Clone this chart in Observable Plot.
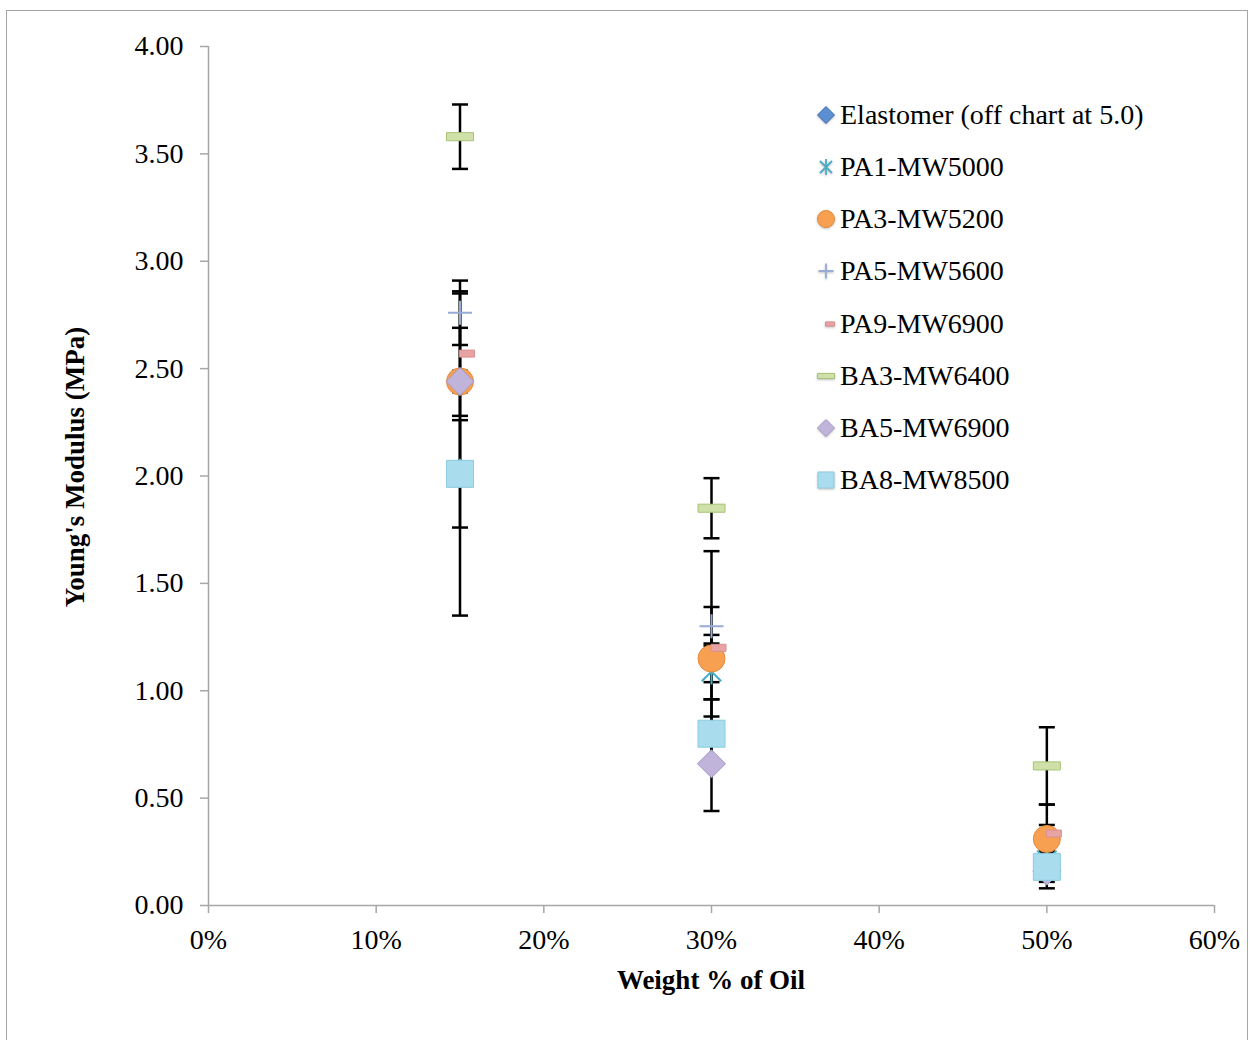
<!DOCTYPE html>
<html>
<head>
<meta charset="utf-8">
<script src="https://cdn.jsdelivr.net/npm/d3@7"></script>
<script src="https://cdn.jsdelivr.net/npm/@observablehq/plot@0.6"></script>
<style>
  html, body { margin: 0; padding: 0; background: #fff; }
  #wrap { position: relative; width: 1254px; height: 1040px; overflow: hidden; background: #fff;
          font-family: "Liberation Serif", "DejaVu Serif", serif; color: #000; }
  #frame { position: absolute; left: 6px; top: 10px; width: 1242px; height: 1100px;
           border: 1.5px solid #a6a6a6; box-sizing: border-box; }
  #chart { position: absolute; left: 0; top: 0; }
  .axis-title { position: absolute; font-weight: bold; font-size: 27px; white-space: nowrap; }
  #ytitle { left: 75px; top: 467px; transform: translate(-50%, -50%) rotate(-90deg); }
  #xtitle { left: 711px; top: 980px; transform: translate(-50%, -50%); }
  #legend { position: absolute; left: 0; top: 0; }
  .legend-row { position: absolute; height: 30px; line-height: 30px; font-size: 28px; white-space: nowrap; }
  .legend-row svg { position: absolute; top: 0; }
</style>
</head>
<body>
<div id="wrap">
  <div id="frame"></div>
  <div id="chart"></div>
  <div id="legend"></div>
  <div class="axis-title" id="ytitle">Young's Modulus (MPa)</div>
  <div class="axis-title" id="xtitle">Weight % of Oil</div>
</div>
<script>
// Oil content (weight fraction) at which each formulation was tested
const oilFractions = [0.15, 0.30, 0.50];

// Series names, in legend order
const seriesNames = ["Elastomer (off chart at 5.0)", "PA1-MW5000", "PA3-MW5200", "PA5-MW5600",
                     "PA9-MW6900", "BA3-MW6400", "BA5-MW6900", "BA8-MW8500"];

// Young's modulus (MPa) and error (± MPa) per series; null = no point
const elastomerOil = [0];
const elastomer    = [5.0];
const elastomerErr = [0];
const pa1    = [2.02, 1.09, 0.21];
const pa1Err = [0.67, 0.13, 0.05];
const pa3    = [2.44, 1.15, 0.31];
const pa3Err = [0.41, 0.11, 0.16];
const pa5    = [2.76, 1.30, null];
const pa5Err = [0.15, 0.09, null];
const pa9    = [2.57, 1.20, 0.335];
const pa9Err = [0.29, 0.45, 0.04];
const ba3    = [3.58, 1.85, 0.65];
const ba3Err = [0.15, 0.14, 0.18];
const ba5    = [2.44, 0.66, 0.16];
const ba5Err = [0.05, 0.22, 0.08];
const ba8    = [2.01, 0.80, 0.18];
const ba8Err = [0.25, 0.16, 0.07];

// Axis tick values
const xTickValues = [0, 0.1, 0.2, 0.3, 0.4, 0.5, 0.6];
const yTickValues = [0, 0.5, 1, 1.5, 2, 2.5, 3, 3.5, 4];

// Marker shapes (size is π·r², so r is recovered from it)
const radius = size => Math.sqrt(size / Math.PI);
const diamondSym = { draw(ctx, size) { const r = radius(size);
  ctx.moveTo(0, -r); ctx.lineTo(r, 0); ctx.lineTo(0, r); ctx.lineTo(-r, 0); ctx.closePath(); } };
const squareSym = { draw(ctx, size) { const r = radius(size); ctx.rect(-r, -r, 2 * r, 2 * r); } };
const circleSym = { draw(ctx, size) { const r = radius(size); ctx.moveTo(r, 0); ctx.arc(0, 0, r, 0, 2 * Math.PI); } };
const plusSym = { draw(ctx, size) { const r = radius(size);
  ctx.moveTo(-r, 0); ctx.lineTo(r, 0); ctx.moveTo(0, -r); ctx.lineTo(0, r); } };
const starSym = { draw(ctx, size) { const r = radius(size), a = r * 0.75;
  ctx.moveTo(0, -r); ctx.lineTo(0, r);
  ctx.moveTo(-a, -a); ctx.lineTo(a, a);
  ctx.moveTo(-a, a); ctx.lineTo(a, -a); } };
const barSym = aspect => ({ draw(ctx, size) { const r = radius(size), h = r * aspect;
  ctx.rect(-r, -h / 2, 2 * r, h); } });
const capSym = { draw(ctx, size) { const r = radius(size); ctx.moveTo(-r, 0); ctx.lineTo(r, 0); } };

// Series appearance: chart marker size r, legend marker size lr
const styles = [
  { symbol: diamondSym, r: 13, lr: 8.5, fill: "#5b8fd1", stroke: "#3d6db2", sw: 1 },
  { symbol: starSym, r: 13, lr: 8, fill: "none", stroke: "#4bacc6", sw: 2 },
  { symbol: circleSym, r: 13.5, lr: 8.5, fill: "#f8a052", stroke: "#e58a3a", sw: 1 },
  { symbol: plusSym, r: 12, lr: 7.5, fill: "none", stroke: "#98abd4", sw: 2 },
  { symbol: barSym(0.93), r: 7.5, lr: 4.5, fill: "#e8a4a4", stroke: "#d88e8e", sw: 1, dx: 7, ldx: 4 },
  { symbol: barSym(0.6), r: 13.5, lr: 8.5, fill: "#cfe1a9", stroke: "#a7c277", sw: 1 },
  { symbol: diamondSym, r: 14, lr: 8.5, fill: "#c1b4da", stroke: "#a596c4", sw: 1 },
  { symbol: squareSym, r: 13.5, lr: 8, fill: "#a9dced", stroke: "#8ccbe0", sw: 1 }
];

const seriesValues = [
  [elastomerOil, elastomer, elastomerErr],
  [oilFractions, pa1, pa1Err],
  [oilFractions, pa3, pa3Err],
  [oilFractions, pa5, pa5Err],
  [oilFractions, pa9, pa9Err],
  [oilFractions, ba3, ba3Err],
  [oilFractions, ba5, ba5Err],
  [oilFractions, ba8, ba8Err]
];

// Long-format rows built from the arrays above
const rows = seriesValues.flatMap(([xs, ys, es], i) =>
  ys.map((v, j) => ({ series: seriesNames[i], index: i, oil: xs[j], value: v, err: es[j] })))
  .filter(d => d.value != null);
const barRows = rows.filter(d => d.err > 0);

const markerMarks = styles.map((s, i) =>
  Plot.dot(rows.filter(d => d.index === i), {
    x: "oil", y: "value", symbol: s.symbol, r: s.r,
    fill: s.fill, stroke: s.stroke, strokeWidth: s.sw, dx: s.dx || 0,
    clip: true, ariaLabel: "marker"
  }));

const chart = Plot.plot({
  width: 1254,
  height: 1040,
  marginLeft: 208,
  marginRight: 40,
  marginTop: 46,
  marginBottom: 135,
  style: { fontFamily: "'Liberation Serif', 'DejaVu Serif', serif", fontSize: "28px",
           background: "transparent", color: "#000", overflow: "visible" },
  x: { domain: [0, 0.6] },
  y: { domain: [0, 4] },
  marks: [
    Plot.axisY({ ticks: yTickValues, tickFormat: d3.format(".2f"), tickSize: 8, tickPadding: 17,
                 stroke: "#a6a6a6", strokeWidth: 1.5, fill: "#000", label: null }),
    Plot.axisX({ ticks: xTickValues, tickFormat: d3.format(".0%"), tickSize: 8, tickPadding: 16,
                 stroke: "#a6a6a6", strokeWidth: 1.5, fill: "#000", label: null }),
    Plot.ruleX([0], { stroke: "#a6a6a6", strokeWidth: 1.5 }),
    Plot.ruleY([0], { stroke: "#a6a6a6", strokeWidth: 1.5 }),
    // error bars
    Plot.ruleX(barRows, { x: "oil", y1: d => d.value - d.err, y2: d => d.value + d.err,
                          stroke: "#000", strokeWidth: 2.5, clip: true }),
    Plot.dot(barRows, { x: "oil", y: d => d.value - d.err, symbol: capSym, r: 8,
                        stroke: "#000", strokeWidth: 2.5, fill: "none", clip: true }),
    Plot.dot(barRows, { x: "oil", y: d => d.value + d.err, symbol: capSym, r: 8,
                        stroke: "#000", strokeWidth: 2.5, fill: "none", clip: true }),
    ...markerMarks
  ]
});
document.getElementById("chart").appendChild(chart);

// soft shadow under the series markers
d3.select(chart).selectAll('g[aria-label="marker"]')
  .style("filter", "drop-shadow(0px 3px 2.5px rgba(0,0,0,0.35))");

// Legend
const legend = d3.select("#legend");
const rowTop = 100, rowStep = 52.14;
seriesNames.forEach((name, i) => {
  const s = styles[i];
  const row = legend.append("div").attr("class", "legend-row")
    .style("left", "810px").style("top", `${rowTop + i * rowStep}px`);
  const svg = row.append("svg").attr("width", 30).attr("height", 30).style("left", "0px");
  svg.append("path")
    .attr("transform", `translate(${16 + (s.ldx || 0)},15)`)
    .attr("d", d3.symbol(s.symbol, Math.PI * s.lr * s.lr)())
    .attr("fill", s.fill).attr("stroke", s.stroke).attr("stroke-width", s.sw === 2 ? 1.8 : 1)
    .style("filter", "drop-shadow(0px 1.5px 1px rgba(0,0,0,0.25))");
  row.append("span").style("position", "absolute").style("left", "30px").text(name);
});
</script>
</body>
</html>
